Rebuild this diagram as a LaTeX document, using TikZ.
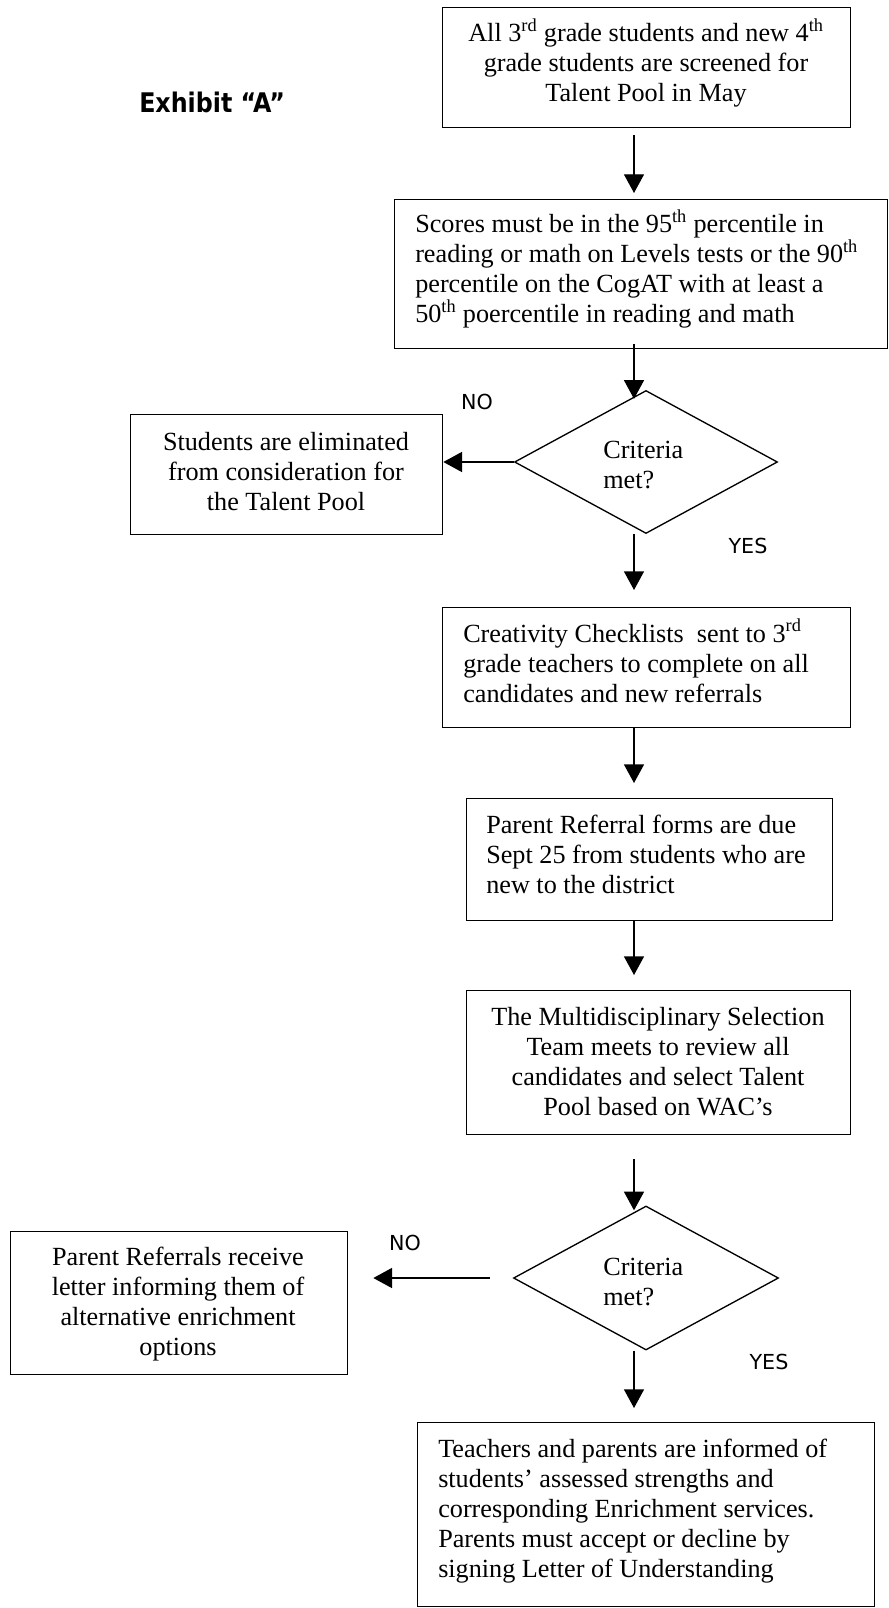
\documentclass[tikz,border=0pt]{standalone}
\usepackage{fontspec}
\setmainfont{Liberation Serif}
\newfontfamily\labfont{DejaVu Sans}
\newfontfamily\exfont{DejaVu Sans Bold}[FakeStretch=0.88]
\usetikzlibrary{arrows.meta,shapes.geometric}
\tikzset{
  every node/.style={font=\fontsize{19.65pt}{22.5pt}\selectfont},
  box/.style={draw, line width=1pt, inner sep=0pt, anchor=north west},
  dia/.style={draw, diamond, line width=1pt, inner sep=0pt},
  txt/.style={inner sep=0pt},
  lab/.style={inner sep=0pt, font=\labfont\fontsize{15.5pt}{18pt}\selectfont},
  arr/.style={line width=1pt, -{Triangle[length=14pt,width=15pt]}},
}
\begin{document}
\begin{tikzpicture}[x=0.75pt,y=-0.75pt]
\path[use as bounding box, fill=white] (0,0) rectangle (888,1608);
\coordinate (ax) at (634,0);

% boxes
\node[box, minimum width=306pt, minimum height=90pt] (b1) at (442,7) {};
\node[box, minimum width=369.75pt, minimum height=111.75pt] (b2) at (394,199) {};
\node[dia, minimum width=197.25pt, minimum height=107.25pt] (d1) at (646,462) {};
\node[box, minimum width=234pt, minimum height=90pt] (s1) at (130,414) {};
\node[box, minimum width=306pt, minimum height=90pt] (c) at (442,607) {};
\node[box, minimum width=274.5pt, minimum height=91.5pt] (p) at (466,798) {};
\node[box, minimum width=288pt, minimum height=108pt] (m) at (466,990) {};
\node[dia, minimum width=198.75pt, minimum height=108pt] (d2) at (646,1278) {};
\node[box, minimum width=252.75pt, minimum height=107.25pt] (r) at (10,1231) {};
\node[box, minimum width=342.75pt, minimum height=138pt] (f) at (417,1422) {};

% texts
\node[inner sep=0pt, anchor=base west] (ex) at (139,113) {\exfont\fontsize{20.25pt}{24pt}\selectfont Exhibit “A”};
\node[txt, anchor=base] (t1) at (646,42) {\parbox[t]{400pt}{\centering All 3\textsuperscript{rd} grade students and new 4\textsuperscript{th}\\grade students are screened for\\Talent Pool in May}};
\node[txt, anchor=base west] (t2) at (415,233) {\parbox[t]{400pt}{\raggedright Scores must be in the 95\textsuperscript{th} percentile in\\reading or math on Levels tests or the 90\textsuperscript{th}\\percentile on the CogAT with at least a\\50\textsuperscript{th} poercentile in reading and math}};
\node[txt, anchor=base west] (td1) at (603,458) {\parbox[t]{100pt}{\raggedright Criteria\\met?}};
\node[txt, anchor=base] (ts) at (286,450) {\parbox[t]{300pt}{\centering Students are eliminated\\from consideration for\\the Talent Pool}};
\node[txt, anchor=base west] (tc) at (463,642) {\parbox[t]{320pt}{\raggedright Creativity Checklists\ \ sent to 3\textsuperscript{rd}\\grade teachers to complete on all\\candidates and new referrals}};
\node[txt, anchor=base west] (tp) at (486,833) {\parbox[t]{320pt}{\raggedright Parent Referral forms are due\\Sept 25 from students who are\\new to the district}};
\node[txt, anchor=base] (tm) at (658,1025) {\parbox[t]{320pt}{\centering The Multidisciplinary Selection\\Team meets to review all\\candidates and select Talent\\Pool based on WAC’s}};
\node[txt, anchor=base west] (td2) at (603,1275) {\parbox[t]{100pt}{\raggedright Criteria\\met?}};
\node[txt, anchor=base] (tr) at (178,1265) {\parbox[t]{300pt}{\centering Parent Referrals receive\\letter informing them of\\alternative enrichment\\options}};
\node[txt, anchor=base west] (tf) at (438,1457) {\parbox[t]{360pt}{\raggedright Teachers and parents are informed of\\students’ assessed strengths and\\corresponding Enrichment services.\\Parents must accept or decline by\\signing Letter of Understanding}};

% labels
\node[lab] (no1) at (477,402) {NO};
\node[lab] (yes1) at (748,546) {YES};
\node[lab] (no2) at (405,1243) {NO};
\node[lab] (yes2) at (769,1362) {YES};

% connectors
\draw[arr, shorten <=5.25pt, shorten >=4.5pt] (b1.south -| ax) -- (b2.north -| ax);
\draw[arr, shorten <=-3.75pt, shorten >=-6.75pt] (b2.south -| ax) -- (d1.north -| ax);
\draw[arr] (d1.west) -- (d1.west -| s1.east);
\draw[arr, shorten >=12.75pt] (d1.south -| ax) -- (c.north -| ax);
\draw[arr, shorten >=11.25pt] (c.south -| ax) -- (p.north -| ax);
\draw[arr, shorten >=11.25pt] (p.south -| ax) -- (m.north -| ax);
\draw[arr, shorten <=18pt, shorten >=-3.75pt] (m.south -| ax) -- (d2.north -| ax);
\draw[arr, shorten <=17.25pt, shorten >=18.75pt] (d2.west) -- (d2.west -| r.east);
\draw[arr, shorten >=10.5pt] (d2.south -| ax) -- (f.north -| ax);
\end{tikzpicture}
\end{document}
